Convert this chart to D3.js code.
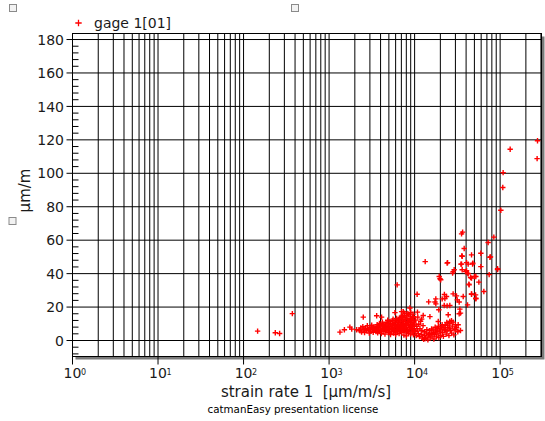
<!DOCTYPE html>
<html>
<head>
<meta charset="utf-8">
<script src="https://cdn.jsdelivr.net/npm/d3@7"></script>
<style>
  html, body { margin: 0; padding: 0; background: #fff; }
  svg { display: block; font-family: "DejaVu Sans", Verdana, sans-serif; }
  text { white-space: pre; }
</style>
</head>
<body>
<div id="chart"></div>
<script>
// strain rate [µm/m/s], strain [µm/m]
const seriesName = 'gage 1[01]';
const xTitle = 'strain rate 1  [µm/m/s]';
const yTitle = 'µm/m';
const footer = 'catmanEasy presentation license';
const yMajorTicks = [0, 20, 40, 60, 80, 100, 120, 140, 160, 180];
const xDecades = [0, 1, 2, 3, 4, 5];

// scattered points
const sparsePoints = [
  [146, 5.6], [235, 4.6], [264, 4.2], [372, 16.1],
  [1340, 5.0], [1510, 6.4], [1750, 8.0], [1840, 6.8], [2100, 6.4], [2300, 5.8], [2510, 14.0], [2630, 6.4],
  [3600, 14.8], [4110, 14.0], [5890, 16.7], [7370, 17.3], [8810, 19.4], [6250, 33.3], [7050, 17.3], [7570, 16.4],
  [10700, 27.7], [10800, 17.0], [12600, 15.0], [12100, 12.8], [15100, 14.3], [13300, 47.2],
  [14600, 23.1], [17300, 23.0], [17700, 24.9], [17700, 21.9], [19200, 18.4], [18900, 11.4],
  [19400, 38.3], [19800, 36.9], [20200, 36.3], [22200, 20.9], [24000, 20.7], [25800, 20.9], [22600, 25.1],
  [23600, 26.3], [21000, 24.9], [22300, 27.5], [24000, 46.3], [24300, 46.6], [24700, 15.4], [23800, 10.8],
  [27000, 11.8], [25800, 11.4], [28200, 41.2], [27800, 40.3], [29000, 42.3], [28200, 27.9], [30900, 26.7],
  [31500, 24.3], [33200, 23.0], [37000, 26.3], [33800, 18.8], [33200, 16.0], [34400, 16.4], [32300, 9.4],
  [34400, 6.0], [30100, 6.4], [28800, 3.4],
  [35400, 63.8], [36400, 64.8], [38000, 55.0], [36000, 50.4], [35600, 50.6], [34800, 45.7], [35400, 45.7],
  [36000, 42.3], [40500, 41.7], [39400, 41.2], [41600, 40.3], [42300, 39.9], [42300, 45.7], [40500, 46.6],
  [47600, 45.8], [48000, 46.3], [41600, 21.3], [43400, 33.3], [43100, 33.7], [45100, 37.7], [46300, 37.3],
  [50200, 38.3], [52000, 38.3], [46300, 27.7], [46300, 27.9], [52000, 25.3], [52000, 24.9], [51600, 27.3],
  [56400, 34.9], [64500, 29.3], [74400, 39.4], [93300, 42.4], [93300, 42.9],
  [46300, 51.2], [59500, 52.2], [75900, 49.8], [77200, 50.0], [84400, 61.8], [72400, 58.6], [59500, 44.2],
  [101900, 77.9], [107400, 91.5], [108400, 100.4], [131000, 114.4], [270600, 108.8], [273500, 119.5]
];

// dense band between 2·10^3 and 3·10^4
const densePoints = [
  [2250, 6.2], [2350, 7.5], [2400, 5.1], [2480, 8.3], [2550, 6.6], [2600, 4.8], [2680, 7.2], [2750, 5.9],
  [2800, 8.8], [2870, 6.4], [2950, 4.5], [3000, 7.8], [3080, 5.6], [3150, 9.1], [3200, 6.9], [3280, 4.9],
  [3350, 8.1], [3420, 6.1], [3480, 7.4], [3540, 5.3],
  [3600, 6.8], [3650, 9.5], [3700, 4.6], [3760, 7.9], [3820, 5.7], [3880, 10.2], [3950, 6.3], [4000, 8.6],
  [4080, 4.2], [4150, 7.1], [4200, 11.0], [4280, 5.4], [4350, 9.0], [4420, 6.7], [4500, 3.8], [4560, 8.2],
  [4630, 10.6], [4700, 5.9], [4780, 7.5], [4850, 12.1], [4920, 4.7], [5000, 9.3], [5080, 6.4], [5150, 11.3],
  [5230, 3.6], [5300, 8.0], [5380, 5.5], [5450, 10.0], [5530, 7.0], [5600, 12.8], [5680, 4.4], [5760, 8.8],
  [5840, 6.1], [5920, 10.9], [6000, 3.5], [6080, 7.6], [6160, 13.2], [6250, 5.2], [6330, 9.6], [6420, 6.9],
  [6500, 11.7], [6590, 4.1], [6680, 8.4], [6770, 13.8], [6860, 5.8], [6950, 10.4], [7030, 7.2],
  [7100, 4.9], [7180, 9.8], [7260, 14.2], [7340, 6.5], [7420, 11.5], [7500, 3.2], [7580, 8.1], [7660, 15.0],
  [7740, 5.6], [7830, 12.4], [7920, 7.3], [8010, 2.8], [8100, 10.1], [8190, 16.2], [8280, 6.0], [8370, 13.0],
  [8460, 4.3], [8560, 9.1], [8650, 11.8], [8750, 7.7], [8850, 14.6], [8950, 3.9], [9050, 10.7], [9150, 6.8],
  [9250, 12.9], [9360, 5.0], [9470, 8.7], [9580, 15.8], [9690, 3.4], [9800, 11.1], [9910, 7.0], [9990, 9.9],
  [10150, 5.3], [10300, 12.2], [10450, 3.0], [10600, 8.5], [10750, 6.2], [10900, 14.0], [11050, 4.1],
  [11200, 9.7], [11400, 2.4], [11550, 7.0], [11750, 11.5], [11950, 3.6], [12150, 5.8], [12400, 1.5], [12550, 8.9],
  [12800, 0.8], [13100, 3.1], [13400, 1.2], [13700, 4.5], [14000, 2.0], [14300, 0.4], [14600, 3.7], [14900, 5.9],
  [15200, 1.6], [15600, 4.2], [16000, 2.6], [16400, 6.3], [16800, 0.9], [17200, 3.5], [17600, 5.1], [18000, 2.2],
  [18400, 7.0], [18800, 4.0], [19200, 1.8], [19700, 5.7], [20200, 3.0], [20700, 8.1], [21200, 4.8], [21700, 2.5],
  [22200, 6.6], [22800, 9.0], [23400, 3.8], [24000, 5.6], [24600, 7.7], [25200, 2.9], [25800, 10.2], [26400, 6.0],
  [27000, 4.4], [27600, 8.6], [28200, 11.0], [29000, 6.9], [30000, 9.5], [31000, 7.6], [32000, 5.2]
];

// core of the band, where the marks overlap into a solid blob
const corePoints = [
  [3050, 6.7], [3300, 7.3], [3550, 8.0], [3720, 6.1], [3900, 8.9], [4050, 5.5], [4240, 9.6], [4400, 7.8],
  [4600, 6.0], [4750, 10.1], [4900, 8.4], [5050, 5.1], [5200, 9.9], [5350, 7.2], [5500, 11.8], [5650, 6.6],
  [5800, 9.7], [5950, 5.0], [6100, 12.0], [6200, 8.5], [6350, 6.2], [6450, 10.8], [6550, 7.7], [6700, 12.6],
  [6800, 9.2], [6900, 6.4], [7000, 14.5], [7150, 8.6], [7300, 12.3], [7450, 9.4], [7550, 6.1], [7700, 13.6],
  [7800, 10.3], [7950, 8.8], [8050, 14.9], [8150, 5.2], [8300, 11.2], [8420, 9.3], [8520, 15.7], [8700, 6.5],
  [8800, 12.1], [8900, 8.0], [9000, 16.8], [9100, 9.6], [9300, 11.9], [9420, 7.2], [9520, 13.8], [9640, 9.2],
  [9750, 14.2], [9860, 5.8], [13000, 5.2], [13900, 6.4], [15000, 3.9], [15800, 6.9], [16600, 4.6], [17400, 7.9],
  [18200, 5.7], [19000, 8.6], [20000, 6.9], [21000, 9.4], [22000, 7.8], [23000, 6.2], [24300, 9.3], [25500, 7.4]
];

const width = 545, height = 421;
const plot = { left: 72.5, right: 541.5, top: 33.5, bottom: 356.5 };

const svg = d3.select('#chart').append('svg')
  .attr('width', width)
  .attr('height', height);

const x = d3.scaleLog()
  .domain([1, 304500])
  .range([plot.left, plot.right]);

const y = d3.scaleLinear()
  .domain([-9.56, 183.6])
  .range([plot.bottom, plot.top]);

// little grey boxes (window handles)
[[9, 4], [291, 4], [8.5, 217]].forEach(p => {
  svg.append('rect')
    .attr('x', p[0] + 0.5).attr('y', p[1] + 0.5)
    .attr('width', 7).attr('height', 7)
    .attr('fill', '#f2f2f2')
    .attr('stroke', '#8a8a8a');
});

// shadow + frame
svg.append('rect')
  .attr('x', plot.left + 3).attr('y', plot.top + 3)
  .attr('width', plot.right - plot.left).attr('height', plot.bottom - plot.top)
  .attr('fill', '#7a7a7a');
svg.append('rect')
  .attr('x', plot.left).attr('y', plot.top)
  .attr('width', plot.right - plot.left).attr('height', plot.bottom - plot.top)
  .attr('fill', '#fff');

const grid = svg.append('g').attr('stroke', '#000').attr('stroke-width', 1);

// vertical grid: 1..9 per decade
const xGrid = [];
xDecades.forEach(d => {
  for (let m = 1; m <= 9; m++) {
    const v = m * Math.pow(10, d);
    if (v <= x.domain()[1]) xGrid.push(v);
  }
});
grid.selectAll('line.vx')
  .data(xGrid)
  .enter().append('line')
  .attr('x1', d => x(d)).attr('x2', d => x(d))
  .attr('y1', plot.top).attr('y2', plot.bottom);

// horizontal grid
grid.selectAll('line.hy')
  .data(yMajorTicks)
  .enter().append('line')
  .attr('x1', plot.left).attr('x2', plot.right)
  .attr('y1', d => y(d)).attr('y2', d => y(d));

// frame border
svg.append('rect')
  .attr('x', plot.left).attr('y', plot.top)
  .attr('width', plot.right - plot.left).attr('height', plot.bottom - plot.top)
  .attr('fill', 'none')
  .attr('stroke', '#000');

// y axis ticks
const yMinor = d3.range(-8, 184, 4).filter(v => v % 20 !== 0);
svg.append('g').attr('stroke', '#000')
  .selectAll('line')
  .data(yMinor)
  .enter().append('line')
  .attr('x1', plot.left).attr('x2', plot.left + 6)
  .attr('y1', d => y(d)).attr('y2', d => y(d));

svg.append('g').attr('stroke', '#000')
  .selectAll('line')
  .data(yMajorTicks)
  .enter().append('line')
  .attr('x1', plot.left - 6).attr('x2', plot.left)
  .attr('y1', d => y(d)).attr('y2', d => y(d));

svg.append('g')
  .selectAll('text')
  .data(yMajorTicks)
  .enter().append('text')
  .attr('x', plot.left - 8.5)
  .attr('y', d => y(d) + 5.2)
  .attr('text-anchor', 'end')
  .attr('font-size', 14)
  .attr('fill', '#1a1a1a')
  .text(d => d);

// x axis decade ticks + labels
svg.append('g').attr('stroke', '#000')
  .selectAll('line')
  .data(xDecades)
  .enter().append('line')
  .attr('x1', d => x(Math.pow(10, d))).attr('x2', d => x(Math.pow(10, d)))
  .attr('y1', plot.bottom).attr('y2', plot.bottom + 8);

const xLab = svg.append('g')
  .selectAll('g')
  .data(xDecades)
  .enter().append('g')
  .attr('transform', d => `translate(${x(Math.pow(10, d))},0)`);
xLab.append('text')
  .attr('y', 378.3)
  .attr('text-anchor', 'middle')
  .attr('font-size', 14)
  .attr('fill', '#1a1a1a')
  .text('10');
xLab.append('text')
  .attr('x', 8.5)
  .attr('y', 374.5)
  .attr('font-size', 8)
  .attr('fill', '#1a1a1a')
  .text(d => d);

// axis titles
svg.append('text')
  .attr('x', 306).attr('y', 397)
  .attr('text-anchor', 'middle')
  .attr('font-size', 15)
  .attr('fill', '#1a1a1a')
  .text(xTitle);

svg.append('text')
  .attr('transform', 'translate(30,190.5) rotate(-90)')
  .attr('text-anchor', 'middle')
  .attr('font-size', 15)
  .attr('fill', '#1a1a1a')
  .text(yTitle);

svg.append('text')
  .attr('x', 293).attr('y', 412.7)
  .attr('text-anchor', 'middle')
  .attr('font-size', 10.3)
  .attr('fill', '#000')
  .text(footer);

// markers
const plus = 'M-2.7,0H2.7M0,-2.7V2.7';
svg.append('g')
  .attr('stroke', '#ff0000')
  .attr('stroke-width', 1.4)
  .attr('fill', 'none')
  .selectAll('path')
  .data(densePoints.concat(corePoints, sparsePoints))
  .enter().append('path')
  .attr('transform', d => `translate(${x(d[0])},${y(d[1])})`)
  .attr('d', plus);

// legend
svg.append('path')
  .attr('transform', 'translate(78.5,23)')
  .attr('d', 'M-3.2,0H3.2M0,-3.2V3.2')
  .attr('stroke', '#ff0000')
  .attr('stroke-width', 1.3);
svg.append('text')
  .attr('x', 94).attr('y', 28)
  .attr('font-size', 14)
  .attr('fill', '#1a1a1a')
  .text(seriesName);
</script>
</body>
</html>
